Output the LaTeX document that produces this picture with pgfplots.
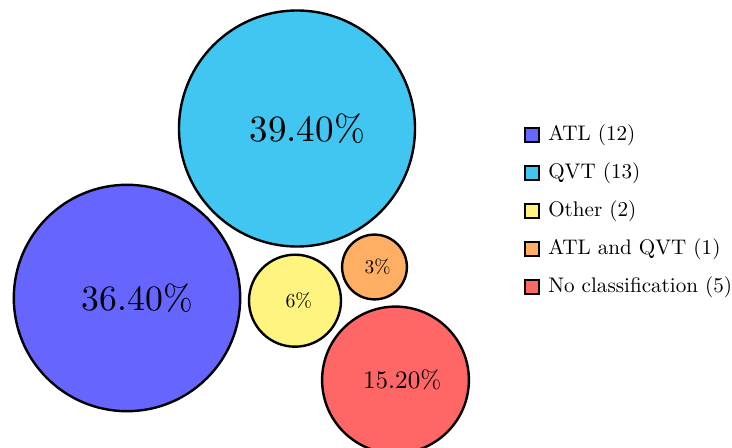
\documentclass[border=0pt]{standalone}
\usepackage{pgfplots}
\pgfplotsset{compat=1.18}
\definecolor{catl}{RGB}{102,102,255}
\definecolor{cqvt}{RGB}{64,198,241}
\definecolor{coth}{RGB}{255,244,128}
\definecolor{cboth}{RGB}{255,175,100}
\definecolor{cnone}{RGB}{255,102,102}
\pgfplotsset{sq/.style={legend image code/.code={\draw[black,line width=1bp,fill=#1] (0bp,-3.5bp) rectangle (7bp,3.5bp); \path (9.5bp,0bp);}}}
\begin{document}
\begin{tikzpicture}
\begin{axis}[
  scale only axis, width=366bp, height=224bp,
  xmin=0, xmax=732, ymin=0, ymax=448,
  hide axis, clip=true, clip marker paths=true,
  legend style={draw=none, fill=none, at={(0.707,0.53)}, anchor=west,
    font=\fontsize{10.6}{12}\selectfont, row sep=5.6bp},
  legend cell align=left,
]
\addlegendimage{sq=catl}\addlegendentry{ATL (12)}
\addlegendimage{sq=cqvt}\addlegendentry{QVT (13)}
\addlegendimage{sq=coth}\addlegendentry{Other (2)}
\addlegendimage{sq=cboth}\addlegendentry{ATL and QVT (1)}
\addlegendimage{sq=cnone}\addlegendentry{No classification (5)}

\addplot[forget plot, only marks, mark=*, mark size=56.6bp,
  mark options={draw=black, fill=catl, line width=1.2bp},
  nodes near coords={36.40\%}, nodes near coords align={center},
  every node near coord/.append style={font=\normalsize, scale=1.79, xshift=2.9bp}]
  coordinates {(127,150)};
\addplot[forget plot, only marks, mark=*, mark size=59bp,
  mark options={draw=black, fill=cqvt, line width=1.2bp},
  nodes near coords={39.40\%}, nodes near coords align={center},
  every node near coord/.append style={font=\normalsize, scale=1.86, xshift=2.75bp}]
  coordinates {(297,319.5)};
\addplot[forget plot, only marks, mark=*, mark size=23bp,
  mark options={draw=black, fill=coth, line width=1.2bp},
  nodes near coords={6\%}, nodes near coords align={center},
  every node near coord/.append style={font=\normalsize, scale=1.0, xshift=1.9bp}]
  coordinates {(295,147.3)};
\addplot[forget plot, only marks, mark=*, mark size=16.2bp,
  mark options={draw=black, fill=cboth, line width=1.2bp},
  nodes near coords={3\%}, nodes near coords align={center},
  every node near coord/.append style={font=\normalsize, scale=0.98, xshift=1.65bp}]
  coordinates {(374.5,181)};
\addplot[forget plot, only marks, mark=*, mark size=36.7bp,
  mark options={draw=black, fill=cnone, line width=1.2bp},
  nodes near coords={15.20\%}, nodes near coords align={center},
  every node near coord/.append style={font=\normalsize, scale=1.26, xshift=2.65bp}]
  coordinates {(395.5,68)};
\end{axis}
\pgfresetboundingbox
\useasboundingbox (current axis.south west) rectangle (current axis.north east);
\end{tikzpicture}
\end{document}
